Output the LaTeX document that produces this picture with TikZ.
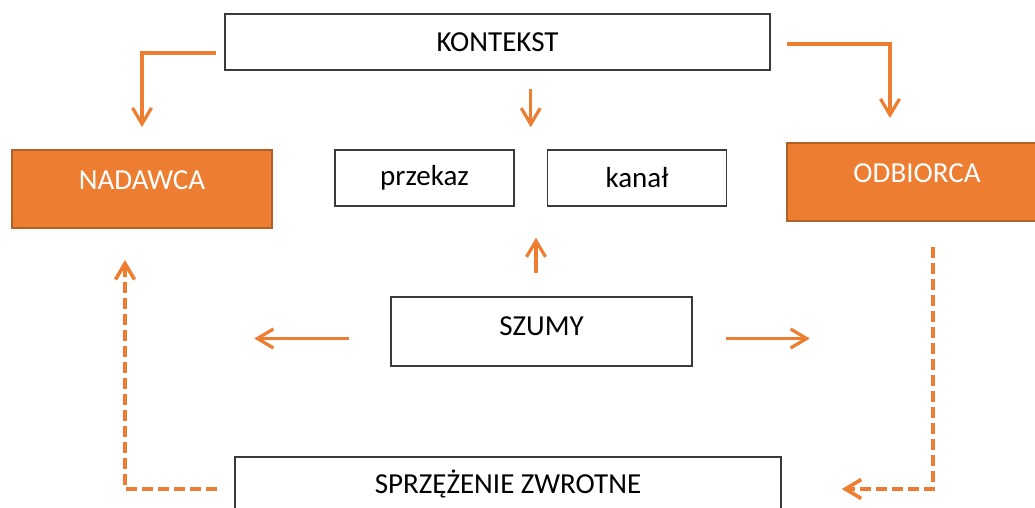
\documentclass[tikz,border=0pt]{standalone}
\usepackage{fontspec}
\setmainfont{Carlito}
\usetikzlibrary{positioning,arrows.meta}
\definecolor{orng}{HTML}{ED7D31}
\definecolor{orngdark}{HTML}{B0602A}
\definecolor{boxline}{HTML}{3A3A3A}
\tikzset{
  box/.style={draw=boxline, line width=1.5pt, inner sep=0pt, font=\fontsize{29}{33}\selectfont},
  actor/.style={box, draw=orngdark, line width=2pt, fill=orng, text=white,
    minimum width=260pt, minimum height=78pt, text height=20pt, text depth=20pt},
  arr/.style={draw=orng, line width=3.2pt, -{Straight Barb[length=16pt,width=19pt]}},
  fb/.style={arr, line width=3.6pt, dash pattern=on 11pt off 5pt},
}

\begin{document}
\begin{tikzpicture}[x=1pt,y=-1pt]
\useasboundingbox (0,0) rectangle (1035,507);
\clip (0,0) rectangle (1035,507);

\node[box, minimum width=545pt, minimum height=56pt] (kontekst) at (497.5,42) {KONTEKST};
\node[actor] (nadawca) at (142,189) {NADAWCA};
\node[actor] (odbiorca) at (917,182) {ODBIORCA};
\node[box, minimum width=179pt, minimum height=56pt] (przekaz) at (424.5,178) {przekaz};
\node[box, minimum width=179pt, minimum height=56pt, right=32pt of przekaz] (kanal) {kanał};
\node[box, minimum width=301pt, minimum height=69pt, text depth=10pt] (szumy) at (541.5,331.5) {SZUMY};
\node[box, minimum width=546pt, minimum height=72pt, text height=20pt, text depth=20pt] (zwrot) at (508,493) {SPRZĘŻENIE ZWROTNE};

% free ends of the arrows
\coordinate[right=16pt of przekaz.north east] (gapN);
\coordinate[left=5.5pt of szumy.north] (szN);
\coordinate[below left=7pt and 41pt of szumy.west] (szL);
\coordinate[below right=7pt and 33pt of szumy.east] (szR);

% context
\draw[arr, shorten <=8pt, shorten >=22pt] ([yshift=-11pt]kontekst.west) -| (nadawca.north);
\draw[arr, shorten <=16pt, shorten >=24pt] ([yshift=-2pt]kontekst.east) -| ([xshift=-27pt]odbiorca.north);
\draw[arr, shorten <=18pt, shorten >=22pt] (kontekst.south -| gapN) -- (gapN);

% noise
\draw[arr, shorten <=23pt, shorten >=31pt] (szN) -- (szN |- przekaz.south);
\draw[arr] (szL) -- ++(-95,0);
\draw[arr] (szR) -- ++(84,0);

% feedback
\draw[fb, shorten <=17pt, shorten >=31pt] ([yshift=4pt]zwrot.west) -| ([xshift=-17pt]nadawca.south);
\draw[fb, shorten <=25pt, shorten >=60pt] ([xshift=16pt]odbiorca.south) |- ([yshift=4pt]zwrot.east);

\end{tikzpicture}
\end{document}
